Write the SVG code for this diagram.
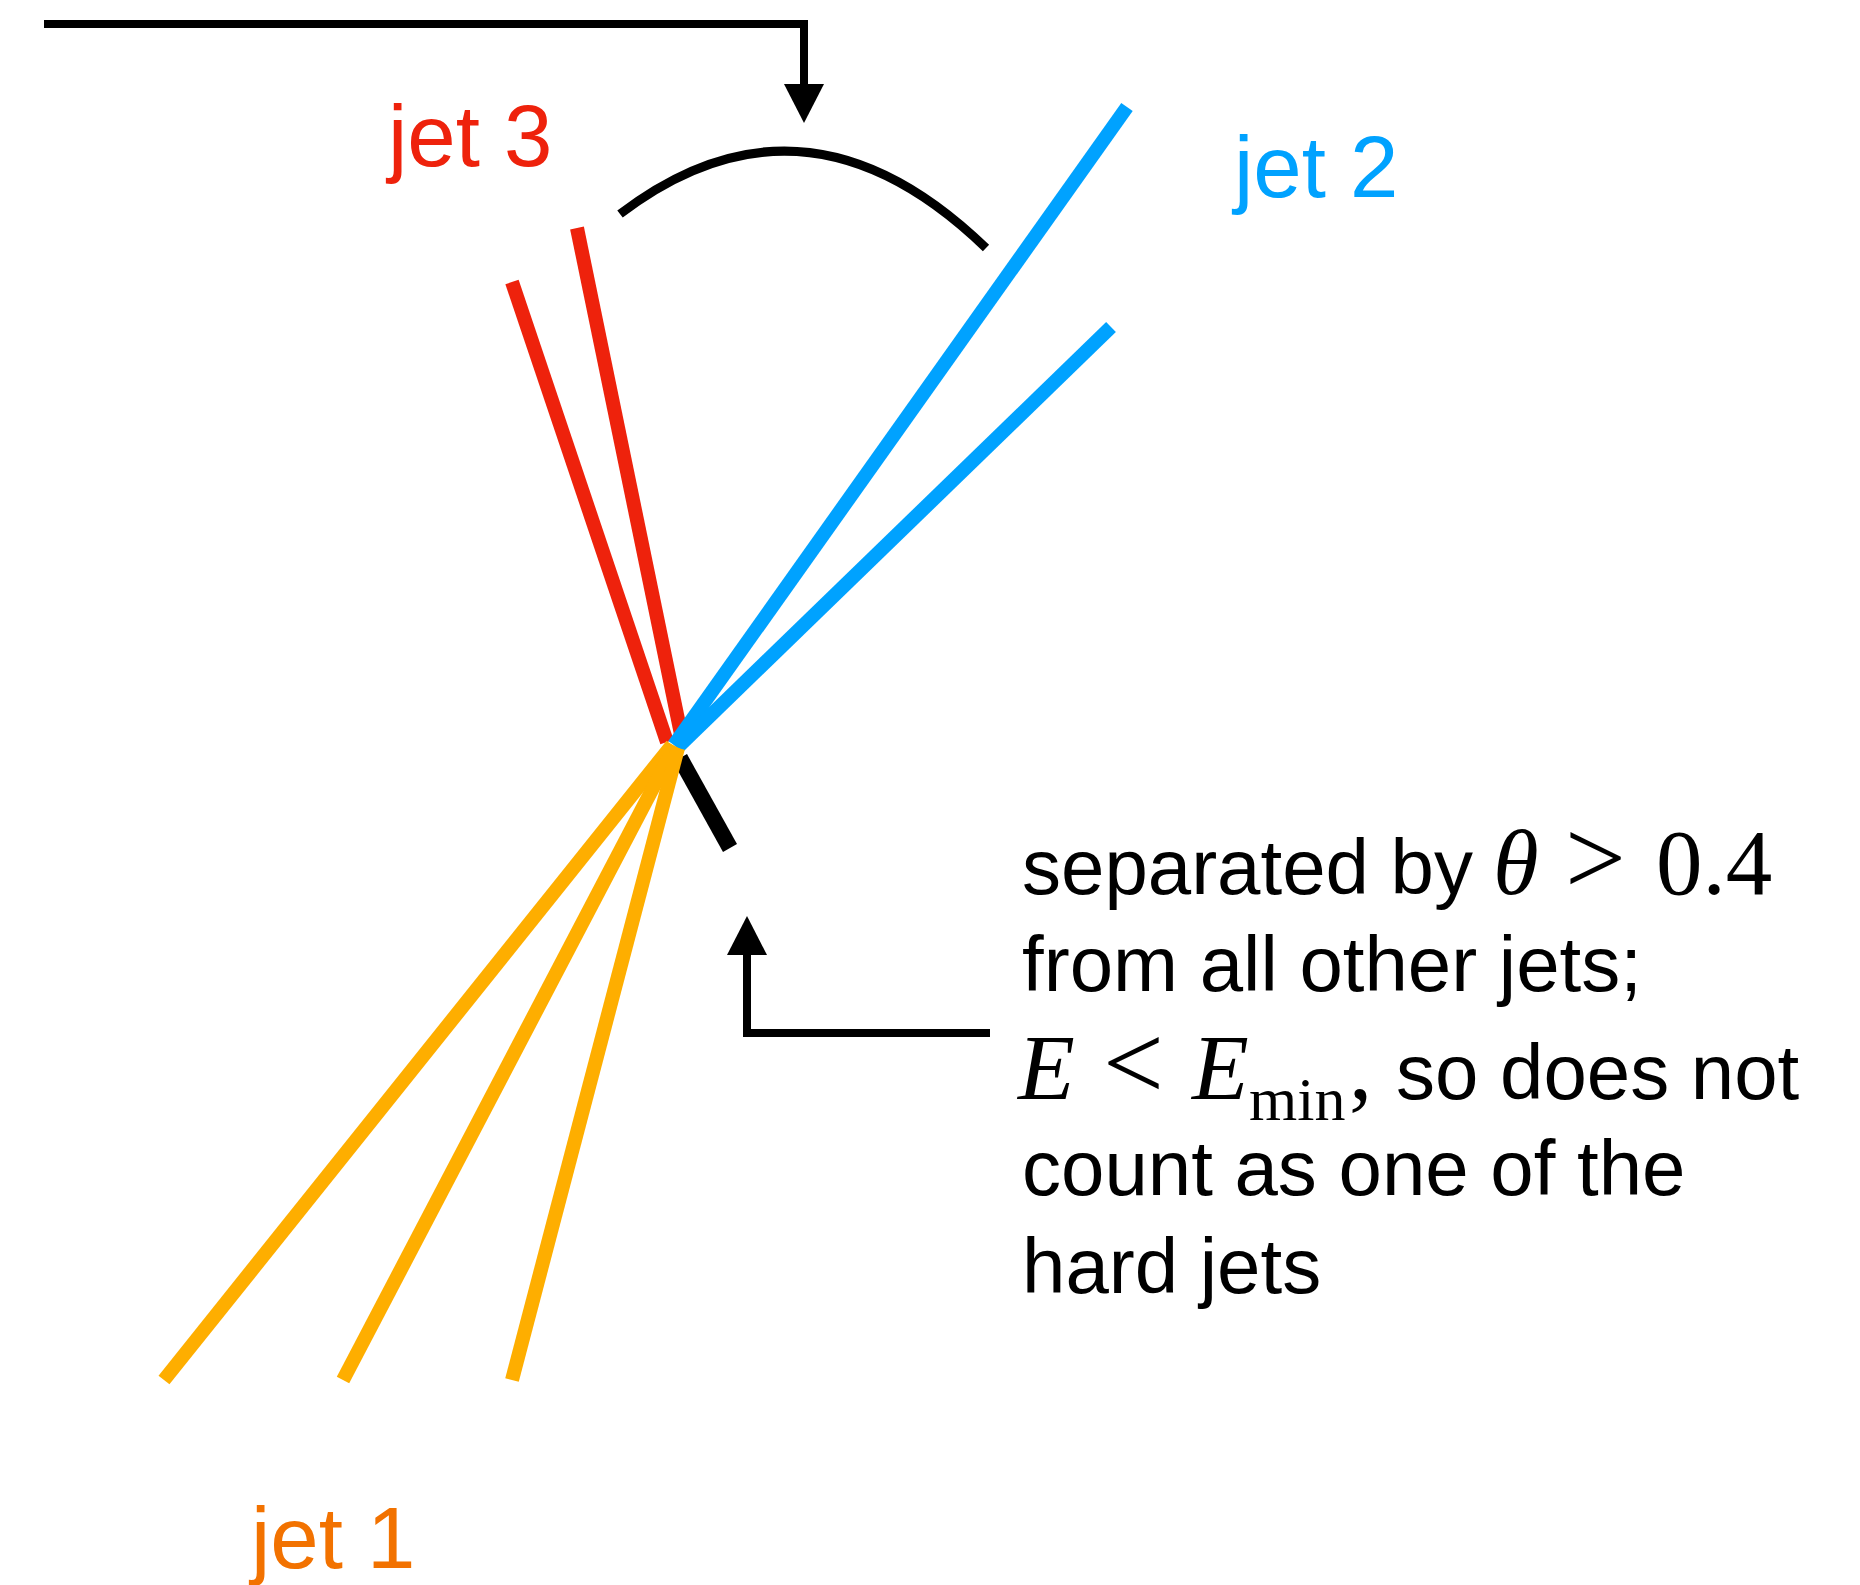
<svg xmlns="http://www.w3.org/2000/svg" width="1860" height="1585" viewBox="0 0 1860 1585">
<style>
.bg{fill:#ffffff}
.jet{fill:none;stroke-width:14;stroke-linecap:butt}
.red{stroke:#EE220C}
.blue{stroke:#00A2FF}
.yel{stroke:#FEAE00}
.conn{fill:none;stroke:#000;stroke-width:8}
.lbl{font-family:"Liberation Sans",Arial,Helvetica,sans-serif;font-size:87px}
.txt{font-family:"Liberation Sans",Arial,Helvetica,sans-serif;font-size:78px;fill:#000}
.math{font-family:"Liberation Serif","Times New Roman",serif;font-size:93px;fill:#000}
.rel{font-family:"Liberation Serif","Times New Roman",serif;font-size:108px;fill:#000}
.mi{font-style:italic}
.sub{font-family:"Liberation Serif","Times New Roman",serif;font-size:62px;fill:#000}
</style>
<defs>
<marker id="arr" markerUnits="userSpaceOnUse" markerWidth="40" markerHeight="40" viewBox="0 0 36 36" refX="0" refY="18" orient="auto">
<path d="M0,0 L35,18 L0,36 Z" fill="#000"/>
</marker>
</defs>
<rect class="bg" x="0" y="0" width="1860" height="1585"/>
<g id="jet3">
<line class="jet red" x1="512" y1="282" x2="667" y2="742"/>
<line class="jet red" x1="577" y1="228" x2="681" y2="734"/>
<text class="lbl" x="388" y="166" fill="#EE220C">jet 3</text>
</g>
<g id="jet2">
<line class="jet blue" x1="1127" y1="107" x2="674" y2="745"/>
<line class="jet blue" x1="1111" y1="327" x2="677" y2="748"/>
<text class="lbl" x="1234" y="197" fill="#00A2FF">jet 2</text>
</g>
<g id="soft-jet">
<line x1="680" y1="758" x2="730" y2="848" stroke="#000" stroke-width="16"/>
</g>
<g id="jet1">
<line class="jet yel" x1="164" y1="1380" x2="672" y2="745"/>
<line class="jet yel" x1="343" y1="1380" x2="675" y2="746"/>
<line class="jet yel" x1="512" y1="1380" x2="678" y2="748"/>
<text class="lbl" x="251" y="1568" fill="#F27200">jet 1</text>
</g>
<g id="angle-arc">
<path d="M620,214 Q805,73 986,248" fill="none" stroke="#000" stroke-width="9"/>
</g>
<g id="annotation">
<text class="txt" x="1022" y="894">separated by</text>
<text class="math mi" x="1493" y="894">θ</text>
<text class="rel" x="1565" y="894">&gt;</text>
<text class="math" x="1656" y="894">0.4</text>
<text class="txt" x="1022" y="991">from all other jets;</text>
<text class="math mi" x="1018" y="1099">E</text>
<text class="rel" x="1103" y="1099">&lt;</text>
<text class="math mi" x="1192" y="1099">E</text>
<text class="sub" x="1249" y="1120">min</text>
<text class="math" x="1349" y="1099">,</text>
<text class="txt" x="1396" y="1099">so does not</text>
<text class="txt" x="1022" y="1195">count as one of the</text>
<text class="txt" x="1022" y="1293">hard jets</text>
</g>
<g id="connectors">
<path class="conn" d="M44,24 H804 V84" marker-end="url(#arr)"/>
<path class="conn" d="M990,1033 H747 V955" marker-end="url(#arr)"/>
</g>
</svg>
